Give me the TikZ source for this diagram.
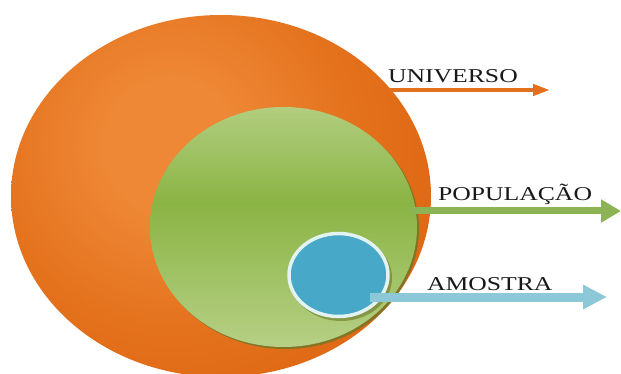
\documentclass[tikz,border=0pt]{standalone}
\usepackage{fontspec}
\usetikzlibrary{shapes.geometric,arrows.meta}
\newfontfamily\labelfont[FakeStretch=1.31]{Liberation Serif}

\definecolor{oLight}{RGB}{238,136,54}
\definecolor{oMid}{RGB}{228,113,28}
\definecolor{oDark}{RGB}{220,100,15}
\definecolor{oEdge}{RGB}{210,92,10}
\definecolor{gLight}{RGB}{198,218,156}
\definecolor{gMid}{RGB}{138,180,68}
\definecolor{gLow}{RGB}{190,212,144}
\definecolor{gRim}{RGB}{108,118,38}
\definecolor{sBlue}{RGB}{72,168,200}
\definecolor{sRing}{RGB}{226,243,242}
\definecolor{arrOrange}{RGB}{228,112,30}
\definecolor{arrGreen}{RGB}{140,180,84}
\definecolor{arrBlue}{RGB}{140,200,216}

% soft glow for the outer set, light patch up and to the left
\pgfdeclareradialshading{orangeglow}{\pgfpoint{0bp}{0bp}}{%
  color(0bp)=(oLight); color(5bp)=(oLight); color(14bp)=(oMid);
  color(24bp)=(oDark); color(40bp)=(oEdge); color(50bp)=(oEdge)}
% horizontal band, darker in the middle
\pgfdeclareverticalshading{greenband}{100bp}{%
  color(0bp)=(gLow); color(20bp)=(gLow); color(55bp)=(gMid);
  color(85bp)=(gLight); color(100bp)=(gLight)}

\begin{document}
\begin{tikzpicture}[x=1pt,y=-1pt,
  every node/.style={inner sep=0pt,outer sep=0pt},
  setshape/.style={ellipse,draw=none},
  lbl/.style={font=\labelfont\fontsize{19.6pt}{22pt}\selectfont,text=black!90,anchor=base west},
  pointer/.style={line width=#1},
]
\useasboundingbox[fill=white] (0,0) rectangle (621,374);

% outer set
\node[setshape,minimum width=420pt,minimum height=362pt,
  path picture={\shade[shading=orangeglow]
    ([shift={(-50pt,50pt)}]path picture bounding box.center) circle (330pt);}]
  (universo) at (221,196) {};

% middle set with its dark rim
\fill[gRim,opacity=.8] (285.5,229) ellipse [x radius=133.5,y radius=120];
\node[setshape,minimum width=267pt,minimum height=240pt,
  path picture={\shade[shading=greenband]
    (path picture bounding box.south west) rectangle (path picture bounding box.north east);}]
  (populacao) at (283.5,227) {};

% pointers for the two larger sets
\coordinate (u-from) at (389,90);
\coordinate (u-to) at (550,90);
\draw[arrOrange,pointer=4pt,-{Triangle[length=17pt,width=11pt]}] (u-from) -- (u-to);

\coordinate (p-from) at (410,211);
\coordinate (p-to) at (621,211);
\draw[arrGreen,pointer=7pt,-{Triangle[length=20pt,width=22pt]}] (p-from) -- (p-to);

% inner set
\fill[gRim,opacity=.6] (341,278) ellipse [x radius=51,y radius=43];
\node[setshape,fill=sBlue,draw=sRing,line width=3.5pt,
  minimum width=99pt,minimum height=83pt] (amostra) at (338.5,275) {};

\coordinate (a-from) at (370,297);
\coordinate (a-to) at (607,297);
\draw[arrBlue,pointer=9pt,-{Triangle[length=24pt,width=23pt]}] (a-from) -- (a-to);

% labels
\node[lbl] (lab-u) at (388,83) {UNIVERSO};
\node[lbl] (lab-p) at (438,201) {POPULAÇÃO};
\node[lbl] (lab-a) at (427,290) {AMOSTRA};
\end{tikzpicture}
\end{document}
